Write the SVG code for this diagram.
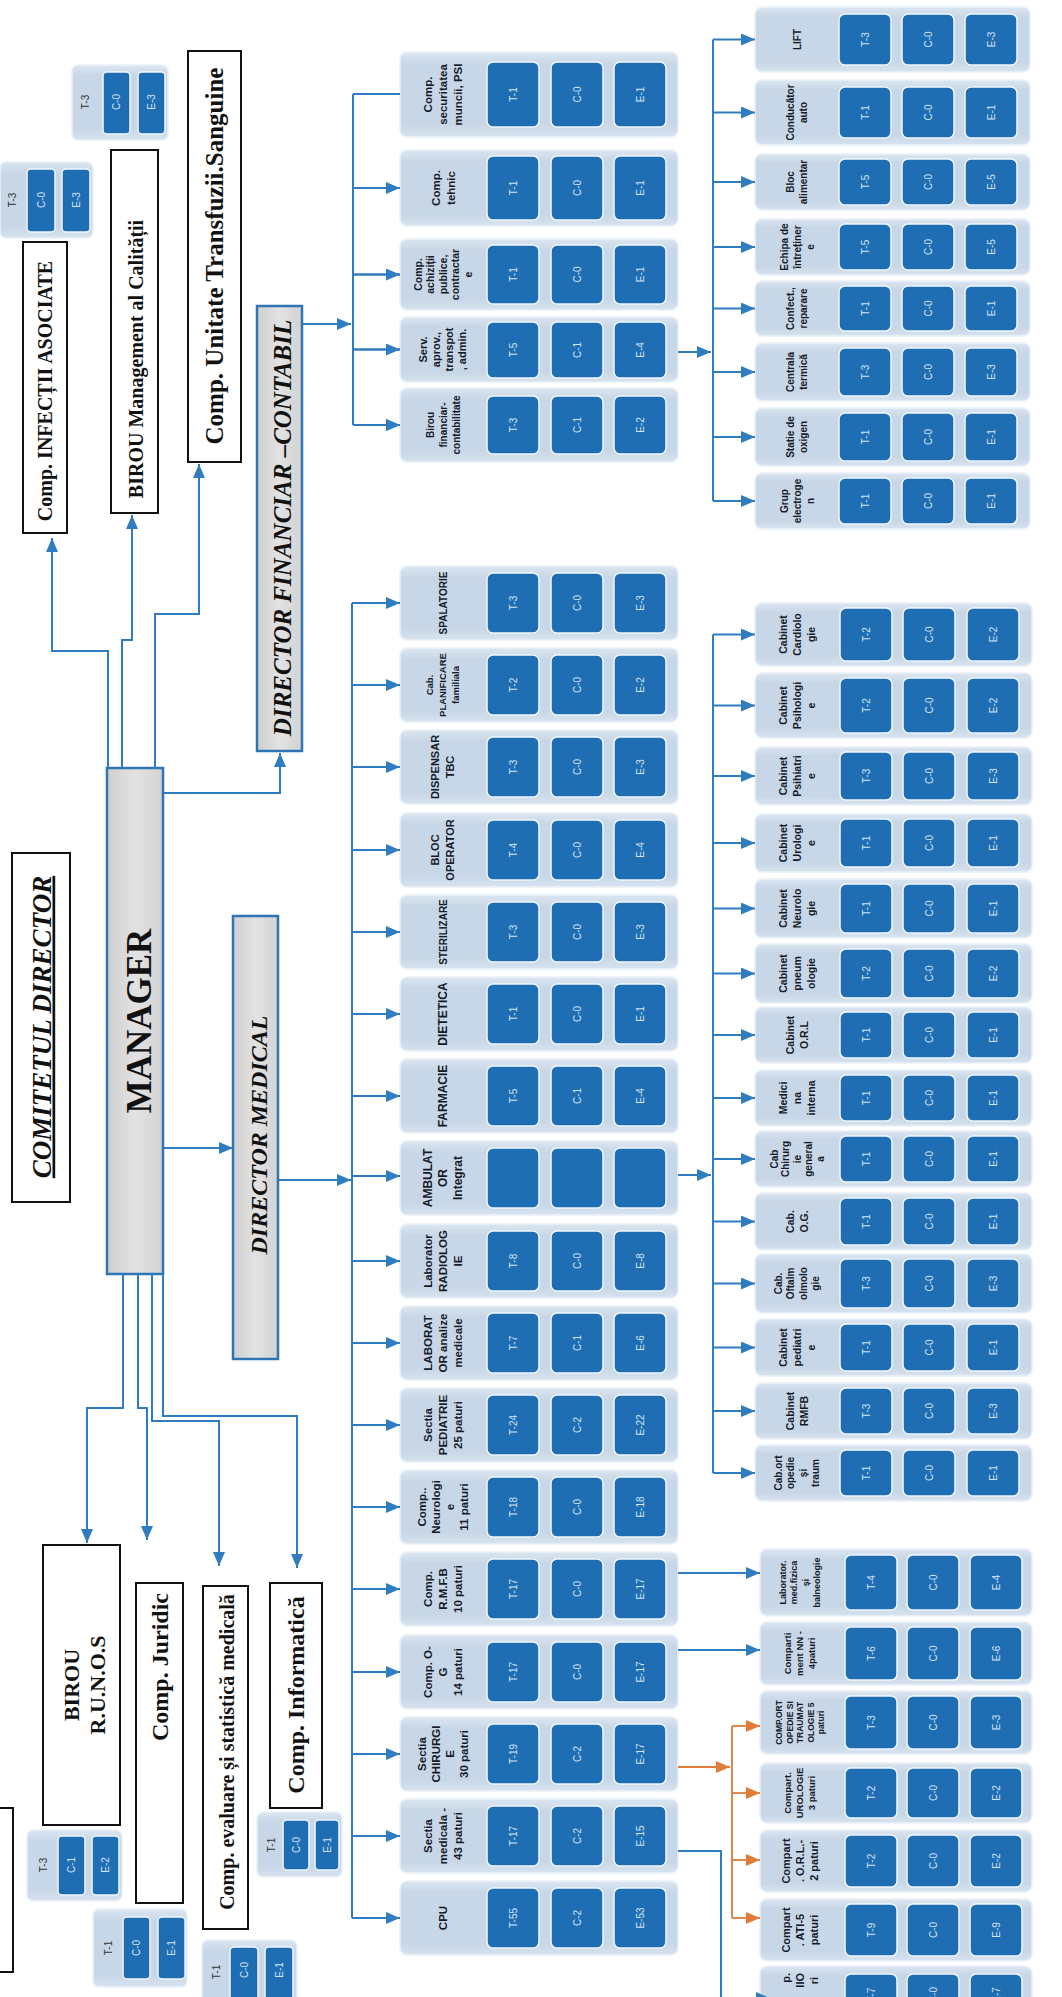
<svg xmlns="http://www.w3.org/2000/svg" width="1062" height="1997" viewBox="0 0 1062 1997">
<defs>
<style>
.card{fill:url(#gc);stroke:#eaf1f8;stroke-width:1.5}
.bx{fill:#1f6db3;stroke:#f2f7fc;stroke-width:1.5}
.bt{font-family:'Liberation Sans',Arial,sans-serif;font-size:10px;fill:#d3e4f5;text-anchor:middle}
.tt{font-family:'Liberation Sans',Arial,sans-serif;font-size:10px;fill:#333;text-anchor:middle}
.hd{font-family:'Liberation Sans',Arial,sans-serif;font-weight:bold;fill:#151a29;text-anchor:middle}
.sf{font-family:'Liberation Serif','Times New Roman',serif;font-weight:bold;fill:#111;text-anchor:middle}
.wb{fill:#fff;stroke:#111;stroke-width:2}
.gb{fill:url(#gg);stroke:#2f74b5;stroke-width:2.5}
.ln{fill:none;stroke:#2f7cc1;stroke-width:2;marker-end:url(#ab)}
.lp{fill:none;stroke:#2f7cc1;stroke-width:2}
.lo{fill:none;stroke:#e07b39;stroke-width:1.8;marker-end:url(#ao)}
.lop{fill:none;stroke:#e07b39;stroke-width:1.8}
</style>
<linearGradient id="gc" x1="0" y1="0" x2="0" y2="1"><stop offset="0" stop-color="#dbe6f1"/><stop offset="0.15" stop-color="#c8d7e7"/><stop offset="0.85" stop-color="#c8d7e7"/><stop offset="1" stop-color="#d7e3ef"/></linearGradient>
<linearGradient id="gg" x1="0" y1="0" x2="1" y2="0"><stop offset="0" stop-color="#cfcfcf"/><stop offset="0.5" stop-color="#e2e2e2"/><stop offset="1" stop-color="#d2d2d2"/></linearGradient>
<marker id="ab" viewBox="0 0 14 12" refX="14" refY="6" markerWidth="14" markerHeight="12" markerUnits="userSpaceOnUse" orient="auto"><path d="M0,0L14,6L0,12z" fill="#2f7cc1"/></marker>
<marker id="ao" viewBox="0 0 14 12" refX="14" refY="6" markerWidth="14" markerHeight="12" markerUnits="userSpaceOnUse" orient="auto"><path d="M0,0L14,6L0,12z" fill="#e07b39"/></marker>
<g id="b74"><rect class="bx" x="87" y="7" width="52" height="60" rx="6"/><rect class="bx" x="151" y="7" width="52" height="60" rx="6"/><rect class="bx" x="214" y="7" width="52" height="60" rx="6"/></g>
</defs>
<rect width="1062" height="1997" fill="#fff"/>

<!-- top-left headcount cards -->
<g id="cnt-infectii"><rect class="card" x="0" y="162" width="93" height="76" rx="6"/><text class="tt" transform="translate(12,200) rotate(-90)" y="3.5">T-3</text><rect class="bx" x="27" y="169" width="28" height="63" rx="4"/><rect class="bx" x="62" y="169" width="28" height="63" rx="4"/><text class="bt" transform="translate(41,200) rotate(-90)" y="3.5">C-0</text><text class="bt" transform="translate(76,200) rotate(-90)" y="3.5">E-3</text></g>
<g id="cnt-calitate"><rect class="card" x="72" y="65" width="96" height="75" rx="6"/><text class="tt" transform="translate(85,102) rotate(-90)" y="3.5">T-3</text><rect class="bx" x="103" y="72" width="27" height="62" rx="4"/><rect class="bx" x="138" y="72" width="27" height="62" rx="4"/><text class="bt" transform="translate(116.5,102) rotate(-90)" y="3.5">C-0</text><text class="bt" transform="translate(151.5,102) rotate(-90)" y="3.5">E-3</text></g>
<g id="cnt-runos"><rect class="card" x="27" y="1830" width="95" height="71" rx="6"/><text class="tt" transform="translate(43,1865) rotate(-90)" y="3.5">T-3</text><rect class="bx" x="58" y="1836" width="27" height="59" rx="4"/><rect class="bx" x="92" y="1836" width="27" height="59" rx="4"/><text class="bt" transform="translate(71.5,1865) rotate(-90)" y="3.5">C-1</text><text class="bt" transform="translate(105.5,1865) rotate(-90)" y="3.5">E-2</text></g>
<g id="cnt-juridic"><rect class="card" x="93" y="1909" width="94" height="78" rx="6"/><text class="tt" transform="translate(108,1948) rotate(-90)" y="3.5">T-1</text><rect class="bx" x="123" y="1917" width="27" height="62" rx="4"/><rect class="bx" x="158" y="1917" width="27" height="62" rx="4"/><text class="bt" transform="translate(136.5,1948) rotate(-90)" y="3.5">C-0</text><text class="bt" transform="translate(171.5,1948) rotate(-90)" y="3.5">E-1</text></g>
<g id="cnt-evaluare"><rect class="card" x="202" y="1940" width="95" height="70" rx="6"/><text class="tt" transform="translate(216,1972) rotate(-90)" y="3.5">T-1</text><rect class="bx" x="230" y="1947" width="28" height="60" rx="4"/><rect class="bx" x="265" y="1947" width="28" height="60" rx="4"/><text class="bt" transform="translate(244,1970) rotate(-90)" y="3.5">C-0</text><text class="bt" transform="translate(279,1970) rotate(-90)" y="3.5">E-1</text></g>
<g id="cnt-informatica"><rect class="card" x="257" y="1812" width="85" height="65" rx="6"/><text class="tt" transform="translate(271,1845) rotate(-90)" y="3.5">T-1</text><rect class="bx" x="283" y="1820" width="26" height="50" rx="4"/><rect class="bx" x="315" y="1820" width="24" height="50" rx="4"/><text class="bt" transform="translate(296,1845) rotate(-90)" y="3.5">C-0</text><text class="bt" transform="translate(327,1845) rotate(-90)" y="3.5">E-1</text></g>

<!-- main boxes -->
<g id="n-infectii"><rect class="wb" x="23" y="242" width="44" height="291"/><text class="sf" font-size="20" transform="translate(45,391) rotate(-90)" y="7">Comp. INFECȚII ASOCIATE</text></g>
<g id="n-calitate"><rect class="wb" x="111" y="150" width="47" height="363"/><text class="sf" font-size="20" transform="translate(136,359) rotate(-90)" y="7">BIROU Management al  Calității</text></g>
<g id="n-transfuzii"><rect class="wb" x="188" y="51" width="53" height="411"/><text class="sf" font-size="25" transform="translate(214,256) rotate(-90)" y="8.7">Comp.  Unitate Transfuzii.Sanguine</text></g>
<g id="n-dfc"><rect class="gb" x="257" y="306" width="45" height="445"/><text class="sf" font-size="25" font-style="italic" transform="translate(282,528) rotate(-90)" y="8.7">DIRECTOR FINANCIAR –CONTABIL</text></g>
<g id="n-comitet"><rect class="wb" x="12" y="853" width="58" height="349"/><text class="sf" font-size="27" font-style="italic" text-decoration="underline" transform="translate(41,1027) rotate(-90)" y="9.5">COMITETUL DIRECTOR</text></g>
<g id="n-manager"><rect class="gb" x="107" y="768" width="56" height="506"/><text class="sf" font-size="35" transform="translate(139,1021) rotate(-90)" y="12">MANAGER</text></g>
<g id="n-dirmed"><rect class="gb" x="233" y="916" width="45" height="443"/><text class="sf" font-size="24" font-style="italic" font-weight="normal" transform="translate(259,1135) rotate(-90)" y="8.4">DIRECTOR MEDICAL</text></g>
<g id="n-runos"><rect class="wb" x="43" y="1545" width="77" height="280"/><text class="sf" font-size="22" transform="translate(84,1685) rotate(-90)"><tspan x="0" y="-5.3">BIROU</tspan><tspan x="0" y="20.7">R.U.N.O.S</tspan></text></g>
<g id="n-juridic"><rect class="wb" x="136" y="1583" width="47" height="320"/><text class="sf" font-size="24" transform="translate(160,1667) rotate(-90)" y="8.4">Comp. Juridic</text></g>
<g id="n-evaluare"><rect class="wb" x="203" y="1586" width="45" height="343"/><text class="sf" font-size="20" transform="translate(227,1752) rotate(-90)" y="7">Comp. evaluare și statistică medicală</text></g>
<g id="n-informatica"><rect class="wb" x="270" y="1583" width="52" height="225"/><text class="sf" font-size="24" transform="translate(296,1695) rotate(-90)" y="8.4">Comp.  Informatică</text></g>
<g id="n-edge"><rect class="wb" x="-10" y="1808" width="23" height="164"/></g>

<!-- financial level 1 -->
<g id="n-securitate" transform="translate(400,52)"><rect class="card" width="278" height="85" rx="7"/><text class="hd" font-size="11.5" transform="translate(43,42.5) rotate(-90)"><tspan x="0" y="-11">Comp.</tspan><tspan x="0" y="4">securitatea</tspan><tspan x="0" y="19">muncii, PSI</tspan></text><rect class="bx" x="87" y="10" width="52" height="65" rx="6"/><rect class="bx" x="151" y="10" width="52" height="65" rx="6"/><rect class="bx" x="214" y="10" width="52" height="65" rx="6"/><text class="bt" transform="translate(113,42.5) rotate(-90)" y="3.5">T-1</text><text class="bt" transform="translate(177,42.5) rotate(-90)" y="3.5">C-0</text><text class="bt" transform="translate(240,42.5) rotate(-90)" y="3.5">E-1</text></g>
<g id="n-tehnic" transform="translate(400,150)"><rect class="card" width="278" height="76" rx="7"/><text class="hd" font-size="11.5" transform="translate(43,38) rotate(-90)"><tspan x="0" y="-3.5">Comp.</tspan><tspan x="0" y="11.5">tehnic</tspan></text><rect class="bx" x="87" y="6" width="52" height="64" rx="6"/><rect class="bx" x="151" y="6" width="52" height="64" rx="6"/><rect class="bx" x="214" y="6" width="52" height="64" rx="6"/><text class="bt" transform="translate(113,38) rotate(-90)" y="3.5">T-1</text><text class="bt" transform="translate(177,38) rotate(-90)" y="3.5">C-0</text><text class="bt" transform="translate(240,38) rotate(-90)" y="3.5">E-1</text></g>
<g id="n-achizitii" transform="translate(400,239)"><rect class="card" width="278" height="71" rx="7"/><text class="hd" font-size="10.5" transform="translate(43,35.5) rotate(-90)"><tspan x="0" y="-21.3">Comp.</tspan><tspan x="0" y="-8.8">achiziții</tspan><tspan x="0" y="3.7">publice,</tspan><tspan x="0" y="16.2">contractar</tspan><tspan x="0" y="28.7">e</tspan></text><rect class="bx" x="87" y="6" width="52" height="59" rx="6"/><rect class="bx" x="151" y="6" width="52" height="59" rx="6"/><rect class="bx" x="214" y="6" width="52" height="59" rx="6"/><text class="bt" transform="translate(113,35.5) rotate(-90)" y="3.5">T-1</text><text class="bt" transform="translate(177,35.5) rotate(-90)" y="3.5">C-0</text><text class="bt" transform="translate(240,35.5) rotate(-90)" y="3.5">E-1</text></g>
<g id="n-aprov" transform="translate(400,317)"><rect class="card" width="278" height="65" rx="7"/><text class="hd" font-size="11" transform="translate(43,32.5) rotate(-90)"><tspan x="0" y="-15.6">Serv.</tspan><tspan x="0" y="-2.6">aprov.,</tspan><tspan x="0" y="10.4">transpot</tspan><tspan x="0" y="23.4">, admin.</tspan></text><rect class="bx" x="87" y="5" width="52" height="56" rx="6"/><rect class="bx" x="151" y="5" width="52" height="56" rx="6"/><rect class="bx" x="214" y="5" width="52" height="56" rx="6"/><text class="bt" transform="translate(113,33) rotate(-90)" y="3.5">T-5</text><text class="bt" transform="translate(177,33) rotate(-90)" y="3.5">C-1</text><text class="bt" transform="translate(240,33) rotate(-90)" y="3.5">E-4</text></g>
<g id="n-birou-fin" transform="translate(400,388)"><rect class="card" width="278" height="74" rx="7"/><text class="hd" font-size="10" transform="translate(43,37) rotate(-90)"><tspan x="0" y="-9.5">Birou</tspan><tspan x="0" y="3.5">financiar-</tspan><tspan x="0" y="16.5">contabilitate</tspan></text><rect class="bx" x="87" y="8" width="52" height="58" rx="6"/><rect class="bx" x="151" y="8" width="52" height="58" rx="6"/><rect class="bx" x="214" y="8" width="52" height="58" rx="6"/><text class="bt" transform="translate(113,37) rotate(-90)" y="3.5">T-3</text><text class="bt" transform="translate(177,37) rotate(-90)" y="3.5">C-1</text><text class="bt" transform="translate(240,37) rotate(-90)" y="3.5">E-2</text></g>

<!-- financial level 2 -->
<g id="n-lift" transform="translate(755,7)"><rect class="card" width="275" height="65" rx="7"/><text class="hd" font-size="10" transform="translate(42,32.5) rotate(-90)"><tspan x="0" y="3.5">LIFT</tspan></text><rect class="bx" x="84" y="7" width="52" height="51" rx="6"/><rect class="bx" x="147" y="7" width="52" height="51" rx="6"/><rect class="bx" x="210" y="7" width="52" height="51" rx="6"/><text class="bt" transform="translate(110,32.5) rotate(-90)" y="3.5">T-3</text><text class="bt" transform="translate(173,32.5) rotate(-90)" y="3.5">C-0</text><text class="bt" transform="translate(236,32.5) rotate(-90)" y="3.5">E-3</text></g>
<g id="n-conducator" transform="translate(755,80)"><rect class="card" width="275" height="65" rx="7"/><text class="hd" font-size="10" transform="translate(42,32.5) rotate(-90)"><tspan x="0" y="-3">Conducător</tspan><tspan x="0" y="10">auto</tspan></text><rect class="bx" x="84" y="7" width="52" height="51" rx="6"/><rect class="bx" x="147" y="7" width="52" height="51" rx="6"/><rect class="bx" x="210" y="7" width="52" height="51" rx="6"/><text class="bt" transform="translate(110,32.5) rotate(-90)" y="3.5">T-1</text><text class="bt" transform="translate(173,32.5) rotate(-90)" y="3.5">C-0</text><text class="bt" transform="translate(236,32.5) rotate(-90)" y="3.5">E-1</text></g>
<g id="n-bloc-alim" transform="translate(755,154)"><rect class="card" width="275" height="56" rx="7"/><text class="hd" font-size="10" transform="translate(42,28) rotate(-90)"><tspan x="0" y="-3">Bloc</tspan><tspan x="0" y="10">alimentar</tspan></text><rect class="bx" x="84" y="5" width="52" height="46" rx="6"/><rect class="bx" x="147" y="5" width="52" height="46" rx="6"/><rect class="bx" x="210" y="5" width="52" height="46" rx="6"/><text class="bt" transform="translate(110,28) rotate(-90)" y="3.5">T-5</text><text class="bt" transform="translate(173,28) rotate(-90)" y="3.5">C-0</text><text class="bt" transform="translate(236,28) rotate(-90)" y="3.5">E-5</text></g>
<g id="n-echipa" transform="translate(755,219)"><rect class="card" width="275" height="56" rx="7"/><text class="hd" font-size="10" transform="translate(42,28) rotate(-90)"><tspan x="0" y="-9.5">Echipa de</tspan><tspan x="0" y="3.5">întreținer</tspan><tspan x="0" y="16.5">e</tspan></text><rect class="bx" x="84" y="5" width="52" height="46" rx="6"/><rect class="bx" x="147" y="5" width="52" height="46" rx="6"/><rect class="bx" x="210" y="5" width="52" height="46" rx="6"/><text class="bt" transform="translate(110,28) rotate(-90)" y="3.5">T-5</text><text class="bt" transform="translate(173,28) rotate(-90)" y="3.5">C-0</text><text class="bt" transform="translate(236,28) rotate(-90)" y="3.5">E-5</text></g>
<g id="n-confect" transform="translate(755,281)"><rect class="card" width="275" height="55" rx="7"/><text class="hd" font-size="10" transform="translate(42,27.5) rotate(-90)"><tspan x="0" y="-3">Confect.,</tspan><tspan x="0" y="10">reparare</tspan></text><rect class="bx" x="84" y="5" width="52" height="45" rx="6"/><rect class="bx" x="147" y="5" width="52" height="45" rx="6"/><rect class="bx" x="210" y="5" width="52" height="45" rx="6"/><text class="bt" transform="translate(110,27.5) rotate(-90)" y="3.5">T-1</text><text class="bt" transform="translate(173,27.5) rotate(-90)" y="3.5">C-0</text><text class="bt" transform="translate(236,27.5) rotate(-90)" y="3.5">E-1</text></g>
<g id="n-centrala" transform="translate(755,343)"><rect class="card" width="275" height="58" rx="7"/><text class="hd" font-size="10" transform="translate(42,29) rotate(-90)"><tspan x="0" y="-3">Centrala</tspan><tspan x="0" y="10">termică</tspan></text><rect class="bx" x="84" y="5" width="52" height="48" rx="6"/><rect class="bx" x="147" y="5" width="52" height="48" rx="6"/><rect class="bx" x="210" y="5" width="52" height="48" rx="6"/><text class="bt" transform="translate(110,29) rotate(-90)" y="3.5">T-3</text><text class="bt" transform="translate(173,29) rotate(-90)" y="3.5">C-0</text><text class="bt" transform="translate(236,29) rotate(-90)" y="3.5">E-3</text></g>
<g id="n-oxigen" transform="translate(755,408)"><rect class="card" width="275" height="58" rx="7"/><text class="hd" font-size="10" transform="translate(42,29) rotate(-90)"><tspan x="0" y="-3">Statie de</tspan><tspan x="0" y="10">oxigen</tspan></text><rect class="bx" x="84" y="5" width="52" height="48" rx="6"/><rect class="bx" x="147" y="5" width="52" height="48" rx="6"/><rect class="bx" x="210" y="5" width="52" height="48" rx="6"/><text class="bt" transform="translate(110,29) rotate(-90)" y="3.5">T-1</text><text class="bt" transform="translate(173,29) rotate(-90)" y="3.5">C-0</text><text class="bt" transform="translate(236,29) rotate(-90)" y="3.5">E-1</text></g>
<g id="n-grup" transform="translate(755,473)"><rect class="card" width="275" height="56" rx="7"/><text class="hd" font-size="10" transform="translate(42,28) rotate(-90)"><tspan x="0" y="-9.5">Grup</tspan><tspan x="0" y="3.5">electroge</tspan><tspan x="0" y="16.5">n</tspan></text><rect class="bx" x="84" y="5" width="52" height="46" rx="6"/><rect class="bx" x="147" y="5" width="52" height="46" rx="6"/><rect class="bx" x="210" y="5" width="52" height="46" rx="6"/><text class="bt" transform="translate(110,28) rotate(-90)" y="3.5">T-1</text><text class="bt" transform="translate(173,28) rotate(-90)" y="3.5">C-0</text><text class="bt" transform="translate(236,28) rotate(-90)" y="3.5">E-1</text></g>

<!-- medical level 1 -->
<g id="n-spalatorie" transform="translate(400,566)"><rect class="card" width="278" height="74" rx="7"/><text class="hd" font-size="10" transform="translate(43,37) rotate(-90)"><tspan x="0" y="3.5">SPALATORIE</tspan></text><use href="#b74"/><text class="bt" transform="translate(113,37) rotate(-90)" y="3.5">T-3</text><text class="bt" transform="translate(177,37) rotate(-90)" y="3.5">C-0</text><text class="bt" transform="translate(240,37) rotate(-90)" y="3.5">E-3</text></g>
<g id="n-planificare" transform="translate(400,648)"><rect class="card" width="278" height="74" rx="7"/><text class="hd" font-size="9.5" transform="translate(43,37) rotate(-90)"><tspan x="0" y="-9.7">Cab.</tspan><tspan x="0" y="3.3">PLANIFICARE</tspan><tspan x="0" y="16.3">familiala</tspan></text><use href="#b74"/><text class="bt" transform="translate(113,37) rotate(-90)" y="3.5">T-2</text><text class="bt" transform="translate(177,37) rotate(-90)" y="3.5">C-0</text><text class="bt" transform="translate(240,37) rotate(-90)" y="3.5">E-2</text></g>
<g id="n-tbc" transform="translate(400,730)"><rect class="card" width="278" height="74" rx="7"/><text class="hd" font-size="11" transform="translate(43,37) rotate(-90)"><tspan x="0" y="-3.6">DISPENSAR</tspan><tspan x="0" y="11.4">TBC</tspan></text><use href="#b74"/><text class="bt" transform="translate(113,37) rotate(-90)" y="3.5">T-3</text><text class="bt" transform="translate(177,37) rotate(-90)" y="3.5">C-0</text><text class="bt" transform="translate(240,37) rotate(-90)" y="3.5">E-3</text></g>
<g id="n-bloc-op" transform="translate(400,813)"><rect class="card" width="278" height="74" rx="7"/><text class="hd" font-size="11" transform="translate(43,37) rotate(-90)"><tspan x="0" y="-3.6">BLOC</tspan><tspan x="0" y="11.4">OPERATOR</tspan></text><use href="#b74"/><text class="bt" transform="translate(113,37) rotate(-90)" y="3.5">T-4</text><text class="bt" transform="translate(177,37) rotate(-90)" y="3.5">C-0</text><text class="bt" transform="translate(240,37) rotate(-90)" y="3.5">E-4</text></g>
<g id="n-sterilizare" transform="translate(400,895)"><rect class="card" width="278" height="74" rx="7"/><text class="hd" font-size="10" transform="translate(43,37) rotate(-90)"><tspan x="0" y="3.5">STERILIZARE</tspan></text><use href="#b74"/><text class="bt" transform="translate(113,37) rotate(-90)" y="3.5">T-3</text><text class="bt" transform="translate(177,37) rotate(-90)" y="3.5">C-0</text><text class="bt" transform="translate(240,37) rotate(-90)" y="3.5">E-3</text></g>
<g id="n-dietetica" transform="translate(400,977)"><rect class="card" width="278" height="74" rx="7"/><text class="hd" font-size="12" transform="translate(43,37) rotate(-90)"><tspan x="0" y="4.2">DIETETICA</tspan></text><use href="#b74"/><text class="bt" transform="translate(113,37) rotate(-90)" y="3.5">T-1</text><text class="bt" transform="translate(177,37) rotate(-90)" y="3.5">C-0</text><text class="bt" transform="translate(240,37) rotate(-90)" y="3.5">E-1</text></g>
<g id="n-farmacie" transform="translate(400,1059)"><rect class="card" width="278" height="74" rx="7"/><text class="hd" font-size="12" transform="translate(43,37) rotate(-90)"><tspan x="0" y="4.2">FARMACIE</tspan></text><use href="#b74"/><text class="bt" transform="translate(113,37) rotate(-90)" y="3.5">T-5</text><text class="bt" transform="translate(177,37) rotate(-90)" y="3.5">C-1</text><text class="bt" transform="translate(240,37) rotate(-90)" y="3.5">E-4</text></g>
<g id="n-ambulator" transform="translate(400,1141)"><rect class="card" width="278" height="74" rx="7"/><text class="hd" font-size="12" transform="translate(43,37) rotate(-90)"><tspan x="0" y="-10.8">AMBULAT</tspan><tspan x="0" y="4.2">OR</tspan><tspan x="0" y="19.2">Integrat</tspan></text><use href="#b74"/></g>
<g id="n-radiologie" transform="translate(400,1224)"><rect class="card" width="278" height="74" rx="7"/><text class="hd" font-size="11.5" transform="translate(43,37) rotate(-90)"><tspan x="0" y="-11">Laborator</tspan><tspan x="0" y="4">RADIOLOG</tspan><tspan x="0" y="19">IE</tspan></text><use href="#b74"/><text class="bt" transform="translate(113,37) rotate(-90)" y="3.5">T-8</text><text class="bt" transform="translate(177,37) rotate(-90)" y="3.5">C-0</text><text class="bt" transform="translate(240,37) rotate(-90)" y="3.5">E-8</text></g>
<g id="n-laborator" transform="translate(400,1306)"><rect class="card" width="278" height="74" rx="7"/><text class="hd" font-size="11.5" transform="translate(43,37) rotate(-90)"><tspan x="0" y="-11">LABORAT</tspan><tspan x="0" y="4">OR analize</tspan><tspan x="0" y="19">medicale</tspan></text><use href="#b74"/><text class="bt" transform="translate(113,37) rotate(-90)" y="3.5">T-7</text><text class="bt" transform="translate(177,37) rotate(-90)" y="3.5">C-1</text><text class="bt" transform="translate(240,37) rotate(-90)" y="3.5">E-6</text></g>
<g id="n-pediatrie" transform="translate(400,1388)"><rect class="card" width="278" height="74" rx="7"/><text class="hd" font-size="11.5" transform="translate(43,37) rotate(-90)"><tspan x="0" y="-11">Sectia</tspan><tspan x="0" y="4">PEDIATRIE</tspan><tspan x="0" y="19">25 paturi</tspan></text><use href="#b74"/><text class="bt" transform="translate(113,37) rotate(-90)" y="3.5">T-24</text><text class="bt" transform="translate(177,37) rotate(-90)" y="3.5">C-2</text><text class="bt" transform="translate(240,37) rotate(-90)" y="3.5">E-22</text></g>
<g id="n-neurologie" transform="translate(400,1470)"><rect class="card" width="278" height="74" rx="7"/><text class="hd" font-size="11.5" transform="translate(43,37) rotate(-90)"><tspan x="0" y="-17">Comp..</tspan><tspan x="0" y="-3">Neurologi</tspan><tspan x="0" y="11">e</tspan><tspan x="0" y="25">11 paturi</tspan></text><use href="#b74"/><text class="bt" transform="translate(113,37) rotate(-90)" y="3.5">T-18</text><text class="bt" transform="translate(177,37) rotate(-90)" y="3.5">C-0</text><text class="bt" transform="translate(240,37) rotate(-90)" y="3.5">E-18</text></g>
<g id="n-rmfb" transform="translate(400,1552)"><rect class="card" width="278" height="74" rx="7"/><text class="hd" font-size="11.5" transform="translate(43,37) rotate(-90)"><tspan x="0" y="-11">Comp.</tspan><tspan x="0" y="4">R.M.F.B</tspan><tspan x="0" y="19">10 paturi</tspan></text><use href="#b74"/><text class="bt" transform="translate(113,37) rotate(-90)" y="3.5">T-17</text><text class="bt" transform="translate(177,37) rotate(-90)" y="3.5">C-0</text><text class="bt" transform="translate(240,37) rotate(-90)" y="3.5">E-17</text></g>
<g id="n-og" transform="translate(400,1635)"><rect class="card" width="278" height="74" rx="7"/><text class="hd" font-size="11.5" transform="translate(43,37) rotate(-90)"><tspan x="0" y="-11">Comp. O-</tspan><tspan x="0" y="4">G</tspan><tspan x="0" y="19">14 paturi</tspan></text><use href="#b74"/><text class="bt" transform="translate(113,37) rotate(-90)" y="3.5">T-17</text><text class="bt" transform="translate(177,37) rotate(-90)" y="3.5">C-0</text><text class="bt" transform="translate(240,37) rotate(-90)" y="3.5">E-17</text></g>
<g id="n-chirurgie" transform="translate(400,1717)"><rect class="card" width="278" height="74" rx="7"/><text class="hd" font-size="11.5" transform="translate(43,37) rotate(-90)"><tspan x="0" y="-17">Sectia</tspan><tspan x="0" y="-3">CHIRURGI</tspan><tspan x="0" y="11">E</tspan><tspan x="0" y="25">30 paturi</tspan></text><use href="#b74"/><text class="bt" transform="translate(113,37) rotate(-90)" y="3.5">T-19</text><text class="bt" transform="translate(177,37) rotate(-90)" y="3.5">C-2</text><text class="bt" transform="translate(240,37) rotate(-90)" y="3.5">E-17</text></g>
<g id="n-medicala" transform="translate(400,1799)"><rect class="card" width="278" height="74" rx="7"/><text class="hd" font-size="11.5" transform="translate(43,37) rotate(-90)"><tspan x="0" y="-11">Sectia</tspan><tspan x="0" y="4">medicala -</tspan><tspan x="0" y="19">43 paturi</tspan></text><use href="#b74"/><text class="bt" transform="translate(113,37) rotate(-90)" y="3.5">T-17</text><text class="bt" transform="translate(177,37) rotate(-90)" y="3.5">C-2</text><text class="bt" transform="translate(240,37) rotate(-90)" y="3.5">E-15</text></g>
<g id="n-cpu" transform="translate(400,1881)"><rect class="card" width="278" height="74" rx="7"/><text class="hd" font-size="11.5" transform="translate(43,37) rotate(-90)"><tspan x="0" y="4">CPU</tspan></text><use href="#b74"/><text class="bt" transform="translate(113,37) rotate(-90)" y="3.5">T-55</text><text class="bt" transform="translate(177,37) rotate(-90)" y="3.5">C-2</text><text class="bt" transform="translate(240,37) rotate(-90)" y="3.5">E-53</text></g>

<!-- ambulator level 2 -->
<g id="n-cardiologie" transform="translate(755,603)"><rect class="card" width="277" height="63" rx="7"/><text class="hd" font-size="10.5" transform="translate(42,31.5) rotate(-90)"><tspan x="0" y="-10.3">Cabinet</tspan><tspan x="0" y="3.7">Cardiolo</tspan><tspan x="0" y="17.7">gie</tspan></text><rect class="bx" x="85" y="5" width="52" height="53" rx="6"/><rect class="bx" x="148" y="5" width="52" height="53" rx="6"/><rect class="bx" x="212" y="5" width="52" height="53" rx="6"/><text class="bt" transform="translate(111,31.5) rotate(-90)" y="3.5">T-2</text><text class="bt" transform="translate(174,31.5) rotate(-90)" y="3.5">C-0</text><text class="bt" transform="translate(238,31.5) rotate(-90)" y="3.5">E-2</text></g>
<g id="n-psihologie" transform="translate(755,673)"><rect class="card" width="277" height="65" rx="7"/><text class="hd" font-size="10.5" transform="translate(42,32.5) rotate(-90)"><tspan x="0" y="-10.3">Cabinet</tspan><tspan x="0" y="3.7">Psihologi</tspan><tspan x="0" y="17.7">e</tspan></text><rect class="bx" x="85" y="5" width="52" height="55" rx="6"/><rect class="bx" x="148" y="5" width="52" height="55" rx="6"/><rect class="bx" x="212" y="5" width="52" height="55" rx="6"/><text class="bt" transform="translate(111,32.5) rotate(-90)" y="3.5">T-2</text><text class="bt" transform="translate(174,32.5) rotate(-90)" y="3.5">C-0</text><text class="bt" transform="translate(238,32.5) rotate(-90)" y="3.5">E-2</text></g>
<g id="n-psihiatrie" transform="translate(755,747)"><rect class="card" width="277" height="58" rx="7"/><text class="hd" font-size="10.5" transform="translate(42,29) rotate(-90)"><tspan x="0" y="-10.3">Cabinet</tspan><tspan x="0" y="3.7">Psihiatri</tspan><tspan x="0" y="17.7">e</tspan></text><rect class="bx" x="85" y="5" width="52" height="48" rx="6"/><rect class="bx" x="148" y="5" width="52" height="48" rx="6"/><rect class="bx" x="212" y="5" width="52" height="48" rx="6"/><text class="bt" transform="translate(111,29) rotate(-90)" y="3.5">T-3</text><text class="bt" transform="translate(174,29) rotate(-90)" y="3.5">C-0</text><text class="bt" transform="translate(238,29) rotate(-90)" y="3.5">E-3</text></g>
<g id="n-urologie" transform="translate(755,814)"><rect class="card" width="277" height="58" rx="7"/><text class="hd" font-size="10.5" transform="translate(42,29) rotate(-90)"><tspan x="0" y="-10.3">Cabinet</tspan><tspan x="0" y="3.7">Urologi</tspan><tspan x="0" y="17.7">e</tspan></text><rect class="bx" x="85" y="5" width="52" height="48" rx="6"/><rect class="bx" x="148" y="5" width="52" height="48" rx="6"/><rect class="bx" x="212" y="5" width="52" height="48" rx="6"/><text class="bt" transform="translate(111,29) rotate(-90)" y="3.5">T-1</text><text class="bt" transform="translate(174,29) rotate(-90)" y="3.5">C-0</text><text class="bt" transform="translate(238,29) rotate(-90)" y="3.5">E-1</text></g>
<g id="n-cab-neurologie" transform="translate(755,879)"><rect class="card" width="277" height="59" rx="7"/><text class="hd" font-size="10.5" transform="translate(42,29.5) rotate(-90)"><tspan x="0" y="-10.3">Cabinet</tspan><tspan x="0" y="3.7">Neurolo</tspan><tspan x="0" y="17.7">gie</tspan></text><rect class="bx" x="85" y="5" width="52" height="49" rx="6"/><rect class="bx" x="148" y="5" width="52" height="49" rx="6"/><rect class="bx" x="212" y="5" width="52" height="49" rx="6"/><text class="bt" transform="translate(111,29.5) rotate(-90)" y="3.5">T-1</text><text class="bt" transform="translate(174,29.5) rotate(-90)" y="3.5">C-0</text><text class="bt" transform="translate(238,29.5) rotate(-90)" y="3.5">E-1</text></g>
<g id="n-pneumologie" transform="translate(755,944)"><rect class="card" width="277" height="59" rx="7"/><text class="hd" font-size="10.5" transform="translate(42,29.5) rotate(-90)"><tspan x="0" y="-10.3">Cabinet</tspan><tspan x="0" y="3.7">pneum</tspan><tspan x="0" y="17.7">ologie</tspan></text><rect class="bx" x="85" y="5" width="52" height="49" rx="6"/><rect class="bx" x="148" y="5" width="52" height="49" rx="6"/><rect class="bx" x="212" y="5" width="52" height="49" rx="6"/><text class="bt" transform="translate(111,29.5) rotate(-90)" y="3.5">T-2</text><text class="bt" transform="translate(174,29.5) rotate(-90)" y="3.5">C-0</text><text class="bt" transform="translate(238,29.5) rotate(-90)" y="3.5">E-2</text></g>
<g id="n-cab-orl" transform="translate(755,1007)"><rect class="card" width="277" height="56" rx="7"/><text class="hd" font-size="10.5" transform="translate(42,28) rotate(-90)"><tspan x="0" y="-3.3">Cabinet</tspan><tspan x="0" y="10.7">O.R.L</tspan></text><rect class="bx" x="85" y="5" width="52" height="46" rx="6"/><rect class="bx" x="148" y="5" width="52" height="46" rx="6"/><rect class="bx" x="212" y="5" width="52" height="46" rx="6"/><text class="bt" transform="translate(111,28) rotate(-90)" y="3.5">T-1</text><text class="bt" transform="translate(174,28) rotate(-90)" y="3.5">C-0</text><text class="bt" transform="translate(238,28) rotate(-90)" y="3.5">E-1</text></g>
<g id="n-medicina" transform="translate(755,1070)"><rect class="card" width="277" height="56" rx="7"/><text class="hd" font-size="10.5" transform="translate(42,28) rotate(-90)"><tspan x="0" y="-10.3">Medici</tspan><tspan x="0" y="3.7">na</tspan><tspan x="0" y="17.7">interna</tspan></text><rect class="bx" x="85" y="5" width="52" height="46" rx="6"/><rect class="bx" x="148" y="5" width="52" height="46" rx="6"/><rect class="bx" x="212" y="5" width="52" height="46" rx="6"/><text class="bt" transform="translate(111,28) rotate(-90)" y="3.5">T-1</text><text class="bt" transform="translate(174,28) rotate(-90)" y="3.5">C-0</text><text class="bt" transform="translate(238,28) rotate(-90)" y="3.5">E-1</text></g>
<g id="n-cab-chirurgie" transform="translate(755,1131)"><rect class="card" width="277" height="56" rx="7"/><text class="hd" font-size="10" transform="translate(42,28) rotate(-90)"><tspan x="0" y="-19.5">Cab</tspan><tspan x="0" y="-8">Chirurg</tspan><tspan x="0" y="3.5">ie</tspan><tspan x="0" y="15">general</tspan><tspan x="0" y="26.5">a</tspan></text><rect class="bx" x="85" y="5" width="52" height="46" rx="6"/><rect class="bx" x="148" y="5" width="52" height="46" rx="6"/><rect class="bx" x="212" y="5" width="52" height="46" rx="6"/><text class="bt" transform="translate(111,28) rotate(-90)" y="3.5">T-1</text><text class="bt" transform="translate(174,28) rotate(-90)" y="3.5">C-0</text><text class="bt" transform="translate(238,28) rotate(-90)" y="3.5">E-1</text></g>
<g id="n-cab-og" transform="translate(755,1193)"><rect class="card" width="277" height="57" rx="7"/><text class="hd" font-size="10.5" transform="translate(42,28.5) rotate(-90)"><tspan x="0" y="-3.3">Cab.</tspan><tspan x="0" y="10.7">O.G.</tspan></text><rect class="bx" x="85" y="5" width="52" height="47" rx="6"/><rect class="bx" x="148" y="5" width="52" height="47" rx="6"/><rect class="bx" x="212" y="5" width="52" height="47" rx="6"/><text class="bt" transform="translate(111,28.5) rotate(-90)" y="3.5">T-1</text><text class="bt" transform="translate(174,28.5) rotate(-90)" y="3.5">C-0</text><text class="bt" transform="translate(238,28.5) rotate(-90)" y="3.5">E-1</text></g>
<g id="n-oftalmologie" transform="translate(755,1254)"><rect class="card" width="277" height="59" rx="7"/><text class="hd" font-size="10" transform="translate(42,29.5) rotate(-90)"><tspan x="0" y="-15.2">Cab.</tspan><tspan x="0" y="-2.7">Oftalm</tspan><tspan x="0" y="9.8">olmolo</tspan><tspan x="0" y="22.3">gie</tspan></text><rect class="bx" x="85" y="5" width="52" height="49" rx="6"/><rect class="bx" x="148" y="5" width="52" height="49" rx="6"/><rect class="bx" x="212" y="5" width="52" height="49" rx="6"/><text class="bt" transform="translate(111,29.5) rotate(-90)" y="3.5">T-3</text><text class="bt" transform="translate(174,29.5) rotate(-90)" y="3.5">C-0</text><text class="bt" transform="translate(238,29.5) rotate(-90)" y="3.5">E-3</text></g>
<g id="n-cab-pediatrie" transform="translate(755,1319)"><rect class="card" width="277" height="57" rx="7"/><text class="hd" font-size="10.5" transform="translate(42,28.5) rotate(-90)"><tspan x="0" y="-10.3">Cabinet</tspan><tspan x="0" y="3.7">pediatri</tspan><tspan x="0" y="17.7">e</tspan></text><rect class="bx" x="85" y="5" width="52" height="47" rx="6"/><rect class="bx" x="148" y="5" width="52" height="47" rx="6"/><rect class="bx" x="212" y="5" width="52" height="47" rx="6"/><text class="bt" transform="translate(111,28.5) rotate(-90)" y="3.5">T-1</text><text class="bt" transform="translate(174,28.5) rotate(-90)" y="3.5">C-0</text><text class="bt" transform="translate(238,28.5) rotate(-90)" y="3.5">E-1</text></g>
<g id="n-cab-rmfb" transform="translate(755,1383)"><rect class="card" width="277" height="56" rx="7"/><text class="hd" font-size="10.5" transform="translate(42,28) rotate(-90)"><tspan x="0" y="-3.3">Cabinet</tspan><tspan x="0" y="10.7">RMFB</tspan></text><rect class="bx" x="85" y="5" width="52" height="46" rx="6"/><rect class="bx" x="148" y="5" width="52" height="46" rx="6"/><rect class="bx" x="212" y="5" width="52" height="46" rx="6"/><text class="bt" transform="translate(111,28) rotate(-90)" y="3.5">T-3</text><text class="bt" transform="translate(174,28) rotate(-90)" y="3.5">C-0</text><text class="bt" transform="translate(238,28) rotate(-90)" y="3.5">E-3</text></g>
<g id="n-cab-ortopedie" transform="translate(755,1445)"><rect class="card" width="277" height="56" rx="7"/><text class="hd" font-size="10" transform="translate(42,28) rotate(-90)"><tspan x="0" y="-15.2">Cab.ort</tspan><tspan x="0" y="-2.7">opedie</tspan><tspan x="0" y="9.8">și</tspan><tspan x="0" y="22.3">traum</tspan></text><rect class="bx" x="85" y="5" width="52" height="46" rx="6"/><rect class="bx" x="148" y="5" width="52" height="46" rx="6"/><rect class="bx" x="212" y="5" width="52" height="46" rx="6"/><text class="bt" transform="translate(111,28) rotate(-90)" y="3.5">T-1</text><text class="bt" transform="translate(174,28) rotate(-90)" y="3.5">C-0</text><text class="bt" transform="translate(238,28) rotate(-90)" y="3.5">E-1</text></g>

<!-- ward compartments -->
<g id="n-lab-fizica" transform="translate(760,1549)"><rect class="card" width="272" height="67" rx="7"/><text class="hd" font-size="9" transform="translate(40,33.5) rotate(-90)"><tspan x="0" y="-14.1">Laborator.</tspan><tspan x="0" y="-2.6">med.fizica</tspan><tspan x="0" y="8.9">și</tspan><tspan x="0" y="20.4">balneologie</tspan></text><rect class="bx" x="85" y="6" width="52" height="55" rx="6"/><rect class="bx" x="147" y="6" width="52" height="55" rx="6"/><rect class="bx" x="210" y="6" width="52" height="55" rx="6"/><text class="bt" transform="translate(111,33.5) rotate(-90)" y="3.5">T-4</text><text class="bt" transform="translate(173,33.5) rotate(-90)" y="3.5">C-0</text><text class="bt" transform="translate(236,33.5) rotate(-90)" y="3.5">E-4</text></g>
<g id="n-nn" transform="translate(760,1622)"><rect class="card" width="272" height="63" rx="7"/><text class="hd" font-size="9.5" transform="translate(40,31.5) rotate(-90)"><tspan x="0" y="-8.7">Comparti</tspan><tspan x="0" y="3.3">ment NN -</tspan><tspan x="0" y="15.3">4paturi</tspan></text><rect class="bx" x="85" y="5" width="52" height="53" rx="6"/><rect class="bx" x="147" y="5" width="52" height="53" rx="6"/><rect class="bx" x="210" y="5" width="52" height="53" rx="6"/><text class="bt" transform="translate(111,31.5) rotate(-90)" y="3.5">T-6</text><text class="bt" transform="translate(173,31.5) rotate(-90)" y="3.5">C-0</text><text class="bt" transform="translate(236,31.5) rotate(-90)" y="3.5">E-6</text></g>
<g id="n-comp-ortopedie" transform="translate(760,1691)"><rect class="card" width="272" height="63" rx="7"/><text class="hd" font-size="8.5" transform="translate(40,31.5) rotate(-90)"><tspan x="0" y="-18">COMP.ORT</tspan><tspan x="0" y="-7.5">OPEDIE SI</tspan><tspan x="0" y="3">TRAUMAT</tspan><tspan x="0" y="13.5">OLOGIE 5</tspan><tspan x="0" y="24">paturi</tspan></text><rect class="bx" x="85" y="5" width="52" height="53" rx="6"/><rect class="bx" x="147" y="5" width="52" height="53" rx="6"/><rect class="bx" x="210" y="5" width="52" height="53" rx="6"/><text class="bt" transform="translate(111,31.5) rotate(-90)" y="3.5">T-3</text><text class="bt" transform="translate(173,31.5) rotate(-90)" y="3.5">C-0</text><text class="bt" transform="translate(236,31.5) rotate(-90)" y="3.5">E-3</text></g>
<g id="n-comp-urologie" transform="translate(760,1763)"><rect class="card" width="272" height="60" rx="7"/><text class="hd" font-size="9.5" transform="translate(40,30) rotate(-90)"><tspan x="0" y="-8.7">Compart.</tspan><tspan x="0" y="3.3">UROLOGIE</tspan><tspan x="0" y="15.3">3 paturi</tspan></text><rect class="bx" x="85" y="5" width="52" height="50" rx="6"/><rect class="bx" x="147" y="5" width="52" height="50" rx="6"/><rect class="bx" x="210" y="5" width="52" height="50" rx="6"/><text class="bt" transform="translate(111,30) rotate(-90)" y="3.5">T-2</text><text class="bt" transform="translate(173,30) rotate(-90)" y="3.5">C-0</text><text class="bt" transform="translate(236,30) rotate(-90)" y="3.5">E-2</text></g>
<g id="n-comp-orl" transform="translate(760,1830)"><rect class="card" width="272" height="62" rx="7"/><text class="hd" font-size="11" transform="translate(40,31) rotate(-90)"><tspan x="0" y="-10.2">Compart</tspan><tspan x="0" y="3.8">. O.R.L.-</tspan><tspan x="0" y="17.8">2 paturi</tspan></text><rect class="bx" x="85" y="5" width="52" height="52" rx="6"/><rect class="bx" x="147" y="5" width="52" height="52" rx="6"/><rect class="bx" x="210" y="5" width="52" height="52" rx="6"/><text class="bt" transform="translate(111,31) rotate(-90)" y="3.5">T-2</text><text class="bt" transform="translate(173,31) rotate(-90)" y="3.5">C-0</text><text class="bt" transform="translate(236,31) rotate(-90)" y="3.5">E-2</text></g>
<g id="n-comp-ati" transform="translate(760,1899)"><rect class="card" width="272" height="62" rx="7"/><text class="hd" font-size="11" transform="translate(40,31) rotate(-90)"><tspan x="0" y="-10.2">Compart</tspan><tspan x="0" y="3.8">. ATI-5</tspan><tspan x="0" y="17.8">paturi</tspan></text><rect class="bx" x="85" y="5" width="52" height="52" rx="6"/><rect class="bx" x="147" y="5" width="52" height="52" rx="6"/><rect class="bx" x="210" y="5" width="52" height="52" rx="6"/><text class="bt" transform="translate(111,31) rotate(-90)" y="3.5">T-9</text><text class="bt" transform="translate(173,31) rotate(-90)" y="3.5">C-0</text><text class="bt" transform="translate(236,31) rotate(-90)" y="3.5">E-9</text></g>
<g id="n-comp-partial" transform="translate(760,1966)"><rect class="card" width="272" height="62" rx="7"/><text class="hd" font-size="11" text-anchor="end" transform="translate(40,7) rotate(-90)" style="text-anchor:end"><tspan x="0" y="-10.2">p.</tspan><tspan x="0" y="3.8">IIO</tspan><tspan x="-4" y="17.8">ri</tspan></text><rect class="bx" x="85" y="8" width="52" height="52" rx="6"/><rect class="bx" x="147" y="8" width="52" height="52" rx="6"/><rect class="bx" x="210" y="8" width="52" height="52" rx="6"/><text class="bt" transform="translate(111,29) rotate(-90)" y="3.5">T-7</text><text class="bt" transform="translate(173,29) rotate(-90)" y="3.5">C-0</text><text class="bt" transform="translate(236,29) rotate(-90)" y="3.5">E-7</text></g>

<g id="connectors">
<path class="ln" d="M108,768V651H52V538"/>
<path class="ln" d="M122,768V640H132V515"/>
<path class="ln" d="M155,768V614H199V464"/>
<path class="ln" d="M163,793H280V753"/>
<path class="ln" d="M163,1148H233"/>
<path class="ln" d="M123,1274V1408H87V1543"/>
<path class="ln" d="M138,1274V1408H147V1540"/>
<path class="ln" d="M152,1274V1421H219V1566"/>
<path class="ln" d="M163,1274V1416H297V1568"/>
<path class="ln" d="M302,324H351"/>
<path class="lp" d="M353,94V425"/>
<path class="ln" d="M353,94H400M353,188H400M353,274.5H400M353,349.5H400M353,425H400"/>
<path class="ln" d="M278,1180H351"/>
<path class="lp" d="M352,603V1918"/>
<path class="ln" d="M352,603H400"/><path class="ln" d="M352,685H400"/><path class="ln" d="M352,767H400"/><path class="ln" d="M352,850H400"/><path class="ln" d="M352,932H400"/><path class="ln" d="M352,1014H400"/><path class="ln" d="M352,1096H400"/><path class="ln" d="M352,1176H400"/><path class="ln" d="M352,1261H400"/><path class="ln" d="M352,1343H400"/><path class="ln" d="M352,1425H400"/><path class="ln" d="M352,1507H400"/><path class="ln" d="M352,1589H400"/><path class="ln" d="M352,1672H400"/><path class="ln" d="M352,1754H400"/><path class="ln" d="M352,1836H400"/><path class="ln" d="M352,1918H400"/>
<path class="ln" d="M353,188H400"/><path class="ln" d="M353,274.5H400"/><path class="ln" d="M353,349.5H400"/><path class="ln" d="M353,425H400"/>
<path class="ln" d="M678,352H711"/>
<path class="lp" d="M713,39.5V501"/>
<path class="ln" d="M713,39.5H755"/><path class="ln" d="M713,112.5H755"/><path class="ln" d="M713,182H755"/><path class="ln" d="M713,247H755"/><path class="ln" d="M713,308.5H755"/><path class="ln" d="M713,372H755"/><path class="ln" d="M713,437H755"/><path class="ln" d="M713,501H755"/>
<path class="ln" d="M678,1175H711"/>
<path class="lp" d="M713,634.5V1473"/>
<path class="ln" d="M713,634.5H755"/><path class="ln" d="M713,705.5H755"/><path class="ln" d="M713,776H755"/><path class="ln" d="M713,843H755"/><path class="ln" d="M713,908.5H755"/><path class="ln" d="M713,973.5H755"/><path class="ln" d="M713,1035H755"/><path class="ln" d="M713,1098H755"/><path class="ln" d="M713,1159H755"/><path class="ln" d="M713,1221.5H755"/><path class="ln" d="M713,1283.5H755"/><path class="ln" d="M713,1347.5H755"/><path class="ln" d="M713,1411H755"/><path class="ln" d="M713,1473H755"/>
<path class="ln" d="M678,1573H760"/>
<path class="ln" d="M678,1650H760"/>
<path class="lo" d="M678,1767H730"/>
<path class="lop" d="M732,1726V1918"/>
<path class="lo" d="M732,1726H760"/><path class="lo" d="M732,1793H760"/><path class="lo" d="M732,1860H760"/><path class="lo" d="M732,1918H760"/>
<path class="ln" d="M678,1851H721V1998H770"/>
</g>
</svg>
